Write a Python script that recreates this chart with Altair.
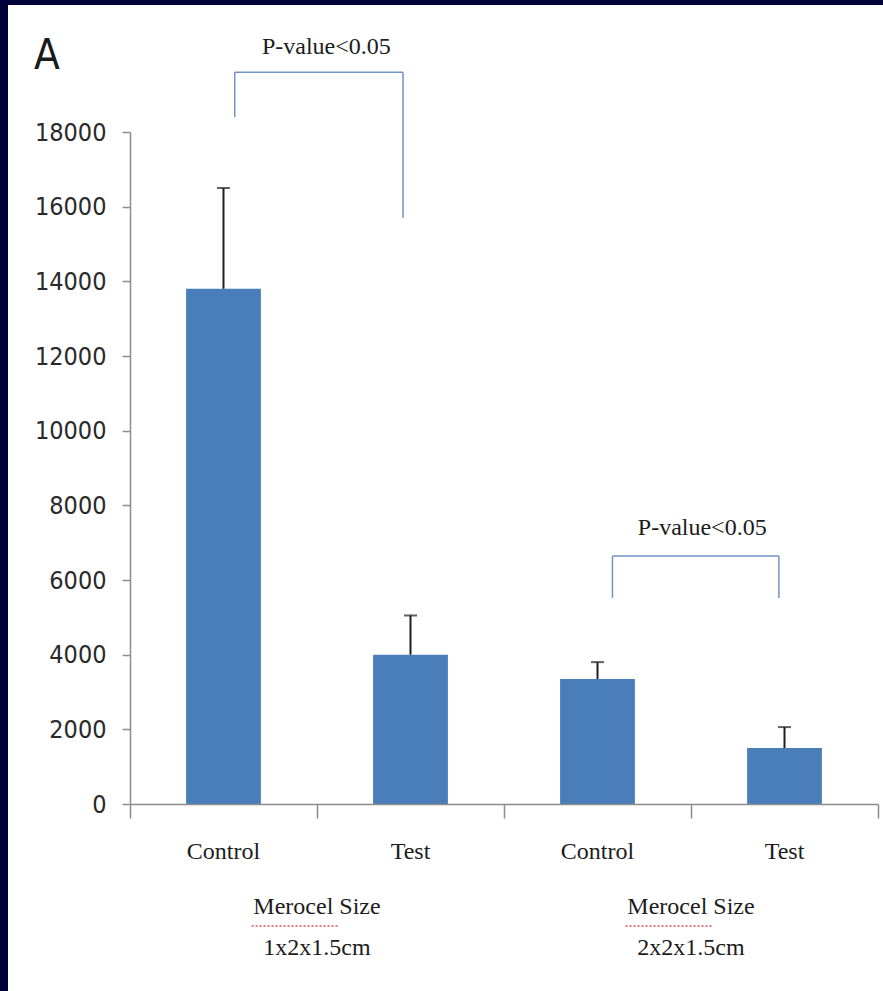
import altair as alt
import pandas as pd

# Bar groups: Merocel sponge size x condition
groups = ["1x2x1.5cm", "1x2x1.5cm", "2x2x1.5cm", "2x2x1.5cm"]
conditions = ["Control", "Test", "Control", "Test"]
means = [13800, 4000, 3350, 1500]
upper = [16500, 5050, 3800, 2060]

# Group captions under the category labels (x in band units, 0..4)
group_captions = ["Merocel Size\n1x2x1.5cm", "Merocel Size\n2x2x1.5cm"]
group_pos = [1.0, 3.0]
category_edges = [0, 1, 2, 3, 4]

# Significance brackets (x in band units, y in data units)
bracket_left = [0.56, 2.58]
bracket_right = [1.46, 3.47]
bracket_top = [19600, 6640]
bracket_left_end = [18400, 5520]
bracket_right_end = [15700, 5520]
bracket_label = ["P-value<0.05", "P-value<0.05"]
bracket_label_x = [1.05, 3.06]
bracket_label_y = [20280, 7390]

y_ticks = list(range(0, 18001, 2000))

BAR = "#4A7EBB"
NAVY = "#02023a"
AXIS_GREY = "#8c8c8c"
SERIF = "Liberation Serif, Times New Roman, serif"
NARROW = "Liberation Sans Narrow, DejaVu Sans Condensed, Liberation Sans, sans-serif"

keys = [f"{g}|{c}" for g, c in zip(groups, conditions)]
bars = pd.DataFrame({"key": keys, "mean": means, "upper": upper})

segments = []
for xl, xr, yt, yl, yr in zip(bracket_left, bracket_right, bracket_top,
                              bracket_left_end, bracket_right_end):
    segments.append({"x": xl, "x2": xr, "y": yt, "y2": yt})
    segments.append({"x": xl, "x2": xl, "y": yt, "y2": yl})
    segments.append({"x": xr, "x2": xr, "y": yt, "y2": yr})
seg_df = pd.DataFrame(segments)

labels_df = pd.DataFrame({"pos": bracket_label_x, "y": bracket_label_y,
                          "text": bracket_label})
captions_df = pd.DataFrame({"pos": group_pos, "text": group_captions,
                            "y": [-2760, -2760]})
squiggle_df = pd.DataFrame({"x": [p - 0.35 for p in group_pos],
                            "x2": [p + 0.12 for p in group_pos],
                            "y": [-3270, -3270]})

yscale = alt.Scale(domain=[0, 18000], nice=False, zero=True)
qscale = alt.Scale(domain=[0, 4], nice=False, zero=False)

# Category labels only; the domain line and the between-category ticks
# come from the band-unit axis on the bracket layer.
xband_axis = alt.X(
    "key:N", sort=keys, title=None,
    scale=alt.Scale(paddingInner=0.6, paddingOuter=0.3),
    axis=alt.Axis(
        labelExpr="split(datum.label, '|')[1]", labelAngle=0,
        labelFont=SERIF, labelFontSize=24, labelColor="#1c1c1c",
        labelPadding=21, tickSize=14, tickOpacity=0, domain=False, zindex=1,
    ),
)
xband = alt.X("key:N", sort=keys, title=None,
              scale=alt.Scale(paddingInner=0.6, paddingOuter=0.3), axis=None)
xq = alt.X("pos:Q", scale=qscale, axis=None)

panel = alt.Chart(pd.DataFrame({"a": [0]})).mark_rect(color="white").encode(
    x=alt.value(-122), x2=alt.value(753), y=alt.value(-127), y2=alt.value(859)
)

bar_layer = alt.Chart(bars).mark_bar(color=BAR).encode(
    x=xband_axis,
    y=alt.Y("mean:Q", scale=yscale, title=None,
            axis=alt.Axis(values=y_ticks, format="d", grid=False, labelFont=NARROW,
                          labelFontSize=25, labelColor="#2a2a2a", labelPadding=16,
                          tickSize=8, tickWidth=1.5, tickColor=AXIS_GREY,
                          domainColor=AXIS_GREY, domainWidth=1.5, zindex=1)),
)

whisker = alt.Chart(bars).mark_rule(color="#1e1e1e", strokeWidth=2).encode(
    x=xband, y=alt.Y("mean:Q", scale=yscale), y2="upper:Q"
)
cap = alt.Chart(bars).mark_tick(color="#1e1e1e", size=13, thickness=2).encode(
    x=xband, y=alt.Y("upper:Q", scale=yscale)
)

bracket = alt.Chart(seg_df).mark_rule(color="#6f93c6", strokeWidth=1.5).encode(
    x=alt.X("x:Q", scale=qscale, title=None,
            axis=alt.Axis(orient="bottom", values=category_edges, labels=False,
                          grid=False, tickSize=14, tickWidth=1.5, tickColor=AXIS_GREY,
                          domainColor=AXIS_GREY, domainWidth=1.5, zindex=1)),
    x2="x2:Q",
    y=alt.Y("y:Q", scale=yscale),
    y2="y2:Q",
)

pvalue = alt.Chart(labels_df).mark_text(
    font=SERIF, fontSize=24, color="#1c1c1c", baseline="middle"
).encode(x=xq, y=alt.Y("y:Q", scale=yscale), text="text:N")

captions = alt.Chart(captions_df).mark_text(
    font=SERIF, fontSize=24, color="#1c1c1c", baseline="middle",
    lineBreak="\n", lineHeight=41
).encode(x=xq, y=alt.Y("y:Q", scale=yscale), text="text:N")

squiggle = alt.Chart(squiggle_df).mark_rule(
    color="#e05050", strokeWidth=1.5, strokeDash=[2, 2]
).encode(
    x=alt.X("x:Q", scale=qscale, axis=None),
    x2="x2:Q",
    y=alt.Y("y:Q", scale=yscale),
)

panel_letter = alt.Chart(pd.DataFrame({"t": ["A"]})).mark_text(
    font=NARROW, fontSize=42, color="#1a1a1a", baseline="middle", align="center"
).encode(x=alt.value(-83), y=alt.value(-76), text="t:N")

chart = alt.layer(
    panel, bar_layer, whisker, cap, bracket, pvalue, captions, squiggle, panel_letter
).resolve_scale(x="independent").properties(
    width=748, height=672,
    padding={"left": 130, "top": 132, "right": 5, "bottom": 187},
    autosize=alt.AutoSizeParams(type="none"),
    background=NAVY,
).configure_view(stroke=None)

chart.save("out.html", embed_options={"renderer": "svg", "actions": False})
